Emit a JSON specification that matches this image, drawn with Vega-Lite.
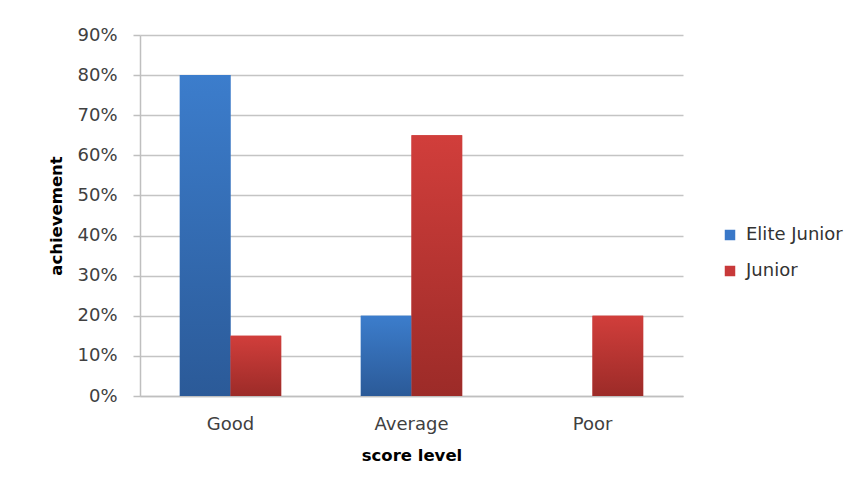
{
  "$schema": "https://vega.github.io/schema/vega-lite/v6.json",
  "width": 543,
  "height": 361,
  "autosize": {"type": "none"},
  "padding": {"left": 140, "top": 35, "right": 182, "bottom": 92},
  "background": "white",
  "config": {"view": {"stroke": null}, "font": "DejaVu Sans"},
  "data": {
    "values": [
      {"level": "Good", "series": "Elite Junior", "value": 0.80},
      {"level": "Good", "series": "Junior", "value": 0.15},
      {"level": "Average", "series": "Elite Junior", "value": 0.20},
      {"level": "Average", "series": "Junior", "value": 0.65},
      {"level": "Poor", "series": "Elite Junior", "value": 0.0},
      {"level": "Poor", "series": "Junior", "value": 0.20}
    ]
  },
  "encoding": {
    "x": {
      "field": "level",
      "type": "nominal",
      "sort": ["Good", "Average", "Poor"],
      "scale": {"paddingInner": 0.44, "paddingOuter": 0.22},
      "axis": {
        "title": "score level",
        "titleFont": "DejaVu Sans",
        "titleFontSize": 16.5,
        "titleFontWeight": "bold",
        "titleColor": "#000000",
        "titlePadding": 14,
        "labelAngle": 0,
        "labelFontSize": 18,
        "labelColor": "#404040",
        "labelPadding": 19,
        "ticks": false,
        "domainColor": "#BFBFBF",
        "domainWidth": 1.5,
        "grid": false
      }
    },
    "xOffset": {"field": "series", "type": "nominal", "sort": ["Elite Junior", "Junior"]},
    "y": {
      "field": "value",
      "type": "quantitative",
      "scale": {"domain": [0, 0.9], "nice": false},
      "axis": {
        "title": "achievement",
        "titleFont": "DejaVu Sans",
        "titleFontSize": 16.5,
        "titleFontWeight": "bold",
        "titleColor": "#000000",
        "titlePadding": 12,
        "values": [0, 0.1, 0.2, 0.3, 0.4, 0.5, 0.6, 0.7, 0.8, 0.9],
        "format": ".0%",
        "labelFontSize": 18,
        "labelColor": "#404040",
        "labelPadding": 16,
        "tickSize": 7,
        "tickColor": "#BFBFBF",
        "tickWidth": 1.5,
        "domainColor": "#BFBFBF",
        "domainWidth": 1.5,
        "gridColor": "#C4C4C4",
        "gridWidth": 1.5
      }
    }
  },
  "layer": [
    {
      "mark": {"type": "bar"},
      "encoding": {
        "color": {
          "field": "series",
          "type": "nominal",
          "scale": {"domain": ["Elite Junior", "Junior"], "range": ["#3A78C8", "#C8393A"]},
          "legend": {
            "title": null,
            "orient": "none",
            "legendX": 581,
            "legendY": 191,
            "symbolType": "square",
            "symbolSize": 110,
            "symbolStrokeWidth": 0,
            "labelFontSize": 18,
            "labelColor": "#333333",
            "labelOffset": 7,
            "rowPadding": 18
          }
        }
      }
    },
    {
      "mark": {"type": "bar"},
      "encoding": {
        "fill": {
          "condition": {
            "test": "datum.series === 'Junior'",
            "value": {
              "gradient": "linear",
              "x1": 0, "y1": 0, "x2": 0, "y2": 1,
              "stops": [
                {"offset": 0, "color": "#D13E3B"},
                {"offset": 1, "color": "#9C2B28"}
              ]
            }
          },
          "value": {
            "gradient": "linear",
            "x1": 0, "y1": 0, "x2": 0, "y2": 1,
            "stops": [
              {"offset": 0, "color": "#3C7DCC"},
              {"offset": 1, "color": "#2B5A98"}
            ]
          }
        }
      }
    }
  ]
}
